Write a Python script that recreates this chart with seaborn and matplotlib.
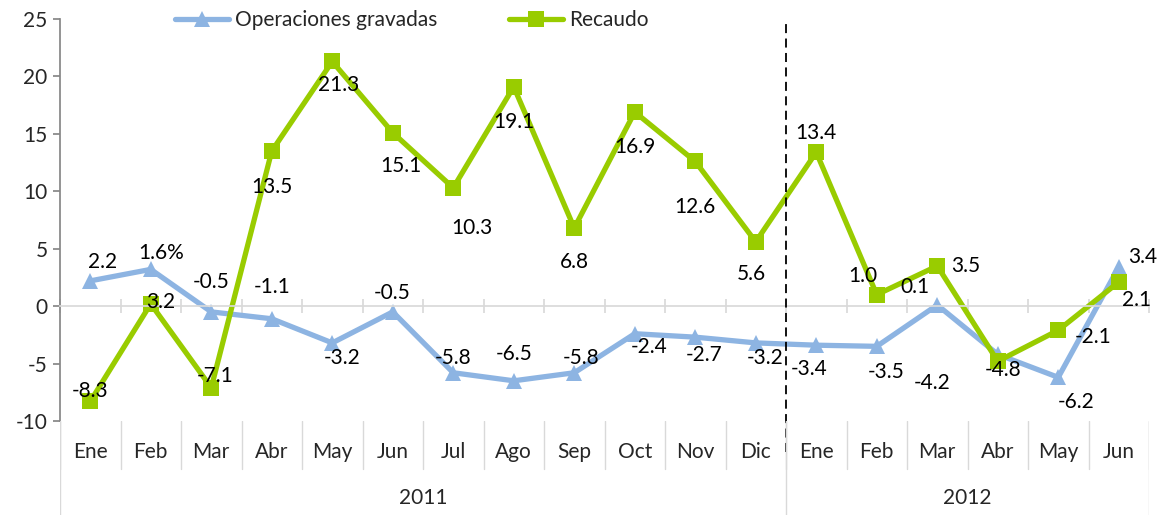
import matplotlib

matplotlib.use("Agg")

import matplotlib.pyplot as plt
import pandas as pd
import seaborn as sns

months = ["Ene", "Feb", "Mar", "Abr", "May", "Jun", "Jul", "Ago", "Sep", "Oct", "Nov", "Dic",
          "Ene", "Feb", "Mar", "Abr", "May", "Jun"]
years = ["2011", "2012"]
months_per_year = [12, 6]

operaciones = [2.2, 3.2, -0.5, -1.1, -3.2, -0.5, -5.8, -6.5, -5.8, -2.4, -2.7, -3.2,
               -3.4, -3.5, 0.1, -4.2, -6.2, 3.4]
recaudo = [-8.3, 0.2, -7.1, 13.5, 21.3, 15.1, 10.3, 19.1, 6.8, 16.9, 12.6, 5.6,
           13.4, 1.0, 3.5, -4.8, -2.1, 2.1]

operaciones_labels = ["2.2", "1.6%", "-0.5", "-1.1", "-3.2", "-0.5", "-5.8", "-6.5", "-5.8",
                      "-2.4", "-2.7", "-3.2", "-3.4", "-3.5", "0.1", "-4.2", "-6.2", "3.4"]
recaudo_labels = ["-8.3", "3.2", "-7.1", "13.5", "21.3", "15.1", "10.3", "19.1", "6.8",
                  "16.9", "12.6", "5.6", "13.4", "1.0", "3.5", "-4.8", "-2.1", "2.1"]

# label offsets in pixels (dx right, dy down) relative to each point
op_offsets = [(12, -19), (10, -16), (0, -30), (0, -32), (10, 15), (-1, -19), (0, -15),
              (0, -27), (7, -15), (14, 13), (9, 18), (9, 15), (-7, 24), (9, 26),
              (-22, -18), (-66, 29), (18, 25), (24, -10)]
rec_offsets = [(0, -10), (10, -2), (4, -12), (0, 36), (6, 24), (8, 33), (19, 40), (0, 35),
               (0, 34), (0, 35), (0, 46), (-4, 32), (0, -19), (-14, -19), (28, 0),
               (5, 9), (35, 7), (18, 18)]

BLUE = "#8DB4E2"
GREEN = "#99CC00"
GRID = "#D9D9D9"

sns.set_theme(style="white")
plt.rcParams["font.family"] = ["Lato", "DejaVu Sans"]
plt.rcParams["axes.unicode_minus"] = False
FS = 15

pos = list(range(len(months)))
df = pd.DataFrame({
    "pos": pos * 2,
    "valor": operaciones + recaudo,
    "serie": ["Operaciones gravadas"] * len(pos) + ["Recaudo"] * len(pos),
})

W, H = 1162, 515
fig = plt.figure(figsize=(W / 100, H / 100), dpi=100)
left, right, top, bottom = 60, 1149, 19, 421
ax = fig.add_axes([left / W, (H - bottom) / H, (right - left) / W, (bottom - top) / H])
ax2 = fig.add_axes([left / W, 0, (right - left) / W, (H - bottom) / H])

sns.lineplot(data=df, x="pos", y="valor", hue="serie", style="serie",
             palette=[BLUE, GREEN], markers=["^", "s"], dashes=False,
             linewidth=3.8, markersize=12, markeredgewidth=0, ax=ax)

ax.set_xlim(-0.5, len(months) - 0.5)
ax.set_ylim(-10, 25)
ax.set_yticks(range(-10, 26, 5))
ax.set_xlabel("")
ax.set_ylabel("")
ax.tick_params(axis="y", left=True, length=5, color="#868686", labelsize=FS, pad=4)
ax.spines["left"].set_color("#868686")
ax.spines["top"].set_visible(False)
ax.spines["right"].set_visible(False)
ax.spines["bottom"].set_position(("data", 0))
ax.spines["bottom"].set_color(GRID)
ax.set_xticks([p - 0.5 for p in pos] + [len(months) - 0.5])
ax.tick_params(axis="x", bottom=True, direction="inout", length=10, color=GRID,
               labelbottom=False)

for series, labels, offs in [(operaciones, operaciones_labels, op_offsets),
                             (recaudo, recaudo_labels, rec_offsets)]:
    for x, v, lab, (dx, dy) in zip(pos, series, labels, offs):
        ax.annotate(lab, (x, v), xytext=(dx, -dy), textcoords="offset pixels",
                    ha="center", va="center", fontsize=FS, color="black", zorder=5)

# dashed separator between years
ax.axvline(11.5, ymin=-0.078, ymax=0.997, color="black", linestyle=(0, (5, 3)),
           linewidth=1.3, clip_on=False, zorder=4)

sns.move_legend(ax, "center", bbox_to_anchor=(0.323, 0.998), ncol=2, frameon=False,
                title=None, fontsize=FS, handlelength=2.6, columnspacing=3.4,
                handletextpad=0.3)

# category axis: months and years
ax2.set_xlim(-0.5, len(months) - 0.5)
ax2.set_ylim(0, 1)
ax2.axis("off")
for x, m in zip(pos, months):
    ax2.text(x, 0.67, m, ha="center", va="center", fontsize=FS)
for b in range(len(months) + 1):
    ax2.plot([b - 0.5, b - 0.5], [0.49, 1], color=GRID, linewidth=1)
start = 0
ax2.plot([-0.5, -0.5], [0, 1], color=GRID, linewidth=1)
for yr, n in zip(years, months_per_year):
    ax2.text(start + (n - 1) / 2, 0.18, yr, ha="center", va="center", fontsize=FS)
    start += n
    ax2.plot([start - 0.5, start - 0.5], [0, 1], color=GRID, linewidth=1)

fig.savefig("out.png", dpi=100)
